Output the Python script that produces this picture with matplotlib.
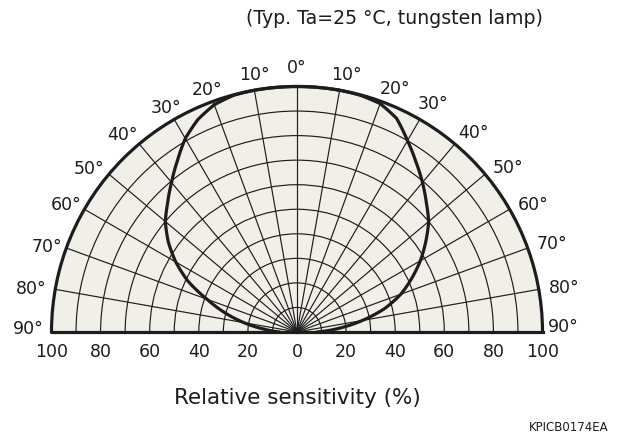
import numpy as np
import matplotlib
matplotlib.use('Agg')
import matplotlib.pyplot as plt

# Data (angle in degrees, relative sensitivity in %)
angles_deg = [-90, -85, -80, -75, -70, -65, -60, -55, -50, -45, -40, -35, -30,
              -25, -20, -15, -10, -5, 0, 5, 10, 15, 20, 25, 30, 35, 40, 45,
              50, 55, 60, 65, 70, 75, 80, 85, 90]
sensitivity = [7, 13.5, 22, 30.5, 39, 49, 57, 64, 70, 74.5, 79.5, 85, 91,
               95.5, 98.5, 99.8, 100, 100, 100, 100, 100, 99.8, 99, 96, 90, 84.5, 79.5, 74.5,
               70, 64, 58, 51.5, 45, 37, 27, 17, 8]

angle_ticks = list(range(-90, 91, 10))
angle_labels = [f"{abs(a)}°" for a in angle_ticks]
radial_ticks = [10, 20, 30, 40, 50, 60, 70, 80, 90, 100]
radial_label_values = [100, 80, 60, 40, 20]

title_text = "(Typ. Ta=25 °C, tungsten lamp)"
xlabel_text = "Relative sensitivity (%)"
code_text = "KPICB0174EA"

# layout: pixel offsets of the angle labels from the rim (x right, y up)
label_offsets_px = {
    -90: (-23.3, 3.4), -80: (-23.7, 0.2), -70: (-19.8, 1.2), -60: (-18.4, 4.2),
    -50: (-19.6, 5.2), -40: (-16.5, 9.0), -30: (-8.1, 11.2), -20: (-6.0, 11.5),
    -10: (0.2, 15.4), 0: (0.0, 18.7), 10: (6.9, 15.4), 20: (14.4, 12.5),
    30: (13.5, 15.5), 40: (18.5, 10.7), 50: (23.3, 5.9), 60: (23.8, 4.2),
    70: (24.2, 3.9), 80: (25.4, 0.9), 90: (21.0, 5.0),
}

INK = '#1f1c1d'
W, H = 623, 436
fig = plt.figure(figsize=(W / 100, H / 100), dpi=100)
fig.patch.set_facecolor('white')

side = 491
ax = fig.add_axes([51.5 / W, (104 - 0.25 * side) / H, side / W, side / H],
                  projection='polar')
ax.set_theta_zero_location('N')
ax.set_theta_direction(-1)
ax.set_thetamin(-90)
ax.set_thetamax(90)
ax.set_ylim(0, 100)
ax.set_facecolor('#f1f0e8')
ax.set_thetagrids(angle_ticks, labels=[''] * len(angle_ticks))
ax.set_rgrids(radial_ticks, labels=[''] * len(radial_ticks))
ax.grid(True, color=INK, linewidth=0.85)
ax.tick_params(length=0)
for name, sp in ax.spines.items():
    sp.set_color(INK)
    sp.set_linewidth(2.3)

th = np.deg2rad(angles_deg)
ln, = ax.plot(th, sensitivity, color=INK, linewidth=2.3, solid_joinstyle='round',
              solid_capstyle='round', zorder=5, clip_on=False)
# draw each segment along the polar coordinate system (smooth arcs)
ln.get_path()._interpolation_steps = 24

# Angle labels
for a, lab in zip(angle_ticks, angle_labels):
    ox, oy = label_offsets_px[a]
    ax.annotate(lab, xy=(np.deg2rad(a), 100), xytext=(ox * 0.72, oy * 0.72),
                textcoords='offset points', ha='center', va='center',
                fontsize=12.5, color=INK, annotation_clip=False)

# Radial labels along baseline
for v in radial_label_values:
    for side_ang in (-90, 90):
        ax.annotate(str(v), xy=(np.deg2rad(side_ang), v), xytext=(0, -14.5),
                    textcoords='offset points', ha='center', va='center',
                    fontsize=12.5, color=INK, annotation_clip=False)
ax.annotate("0", xy=(0, 0), xytext=(0, -14.5), textcoords='offset points',
            ha='center', va='center', fontsize=12.5, color=INK,
            annotation_clip=False)

fig.text(543 / W, 1 - 18 / H, title_text, ha='right', va='center',
         fontsize=13.6, color=INK)
fig.text(297 / W, 1 - 398 / H, xlabel_text, ha='center', va='center',
         fontsize=15.5, color=INK)
fig.text(608 / W, 1 - 427 / H, code_text, ha='right', va='center',
         fontsize=8.5, color=INK, family=['Liberation Sans Narrow', 'DejaVu Sans'])

fig.savefig('out.png', dpi=100)
